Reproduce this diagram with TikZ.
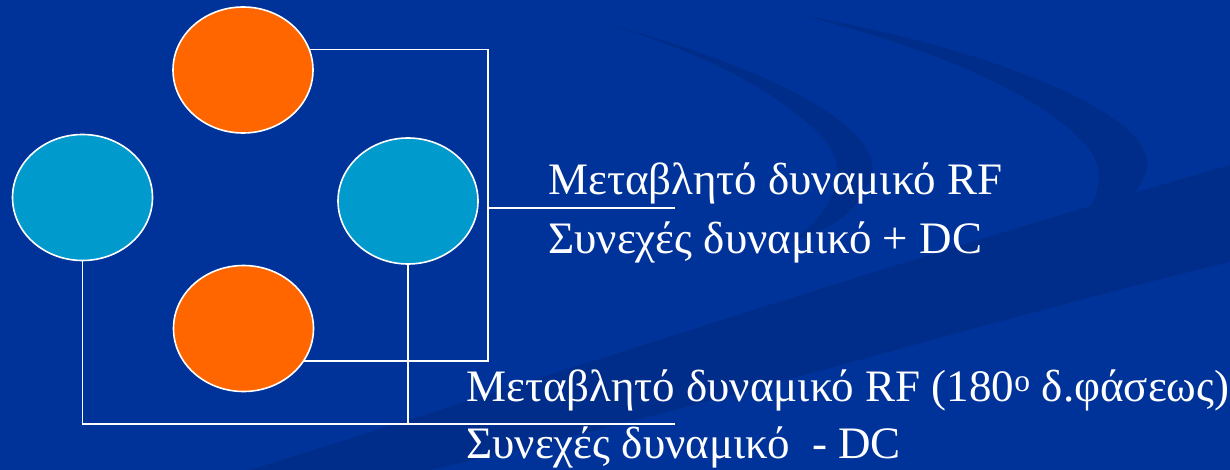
\documentclass[tikz,border=0pt]{standalone}
\usepackage{fontspec}
\setmainfont{Liberation Serif}
\usetikzlibrary{shapes.geometric}
\definecolor{bgblue}{RGB}{0,51,153}
\definecolor{swdark}{RGB}{0,45,138}
\definecolor{swlight}{RGB}{8,60,165}
\definecolor{orangefill}{RGB}{255,102,0}
\definecolor{cyanfill}{RGB}{0,155,204}
\tikzset{
  orb/.style={ellipse, draw=white, line width=1.6pt, inner sep=0pt,
              minimum width=140pt, minimum height=126pt},
  orangeorb/.style={orb, fill=orangefill},
  cyanorb/.style={orb, fill=cyanfill},
  wire/.style={draw=white, line width=1.6pt},
  label/.style={text=white, anchor=base west, inner sep=0pt,
                font=\fontsize{45}{54}\selectfont}
}
\begin{document}
\begin{tikzpicture}[x=1pt,y=-1pt]
\useasboundingbox (0,0) rectangle (1230,470);
% background
\fill[bgblue] (0,0) rectangle (1230,470);
% swoosh decoration
\fill[swdark] (250,470) .. controls (600,360) and (900,260) .. (1230,165)
  -- (1230,262) .. controls (950,330) and (700,410) .. (430,470) -- cycle;
\fill[swdark] (560,12) .. controls (760,60) and (900,130) .. (868,185)
  .. controls (855,215) and (825,232) .. (790,242)
  .. controls (830,215) and (852,175) .. (825,140)
  .. controls (770,80) and (660,35) .. (560,12) -- cycle;
\fill[swdark] (800,15) .. controls (1000,50) and (1170,120) .. (1145,175)
  .. controls (1130,210) and (1095,232) .. (1050,245)
  .. controls (1095,215) and (1110,180) .. (1090,150)
  .. controls (1040,90) and (920,45) .. (800,15) -- cycle;
% orbs
\node[orangeorb] (top) at (243,70) {};
\node[cyanorb]   (left) at (82.5,197.5) {};
\node[cyanorb]   (right) at (408,201) {};
\node[orangeorb] (bot) at (243.5,328.5) {};
% junction coordinates
\coordinate (J) at (488,208);
\coordinate (Jend) at (675,208);
\coordinate (K) at (675,424);
% connectors
\draw[wire] (top.17.7) -| (J);
\draw[wire] (J) |- (bot.-28.7);
\draw[wire] (J) -- (Jend);
\draw[wire] (left.south) |- (K);
\draw[wire] (right.south) -- (right.south |- K);
% labels
\node[label] (t1) at (548,195) {Μεταβλητό δυναμικό RF};
\node[label] (t2) at (548,253) {Συνεχές δυναμικό + DC};
\node[label] (b1) at (466,401) {Μεταβλητό δυναμικό RF (180\textsuperscript{o} δ.φάσεως)};
\node[label] (b2) at (466,458) {Συνεχές δυναμικό\ \ - DC};
\end{tikzpicture}
\end{document}
